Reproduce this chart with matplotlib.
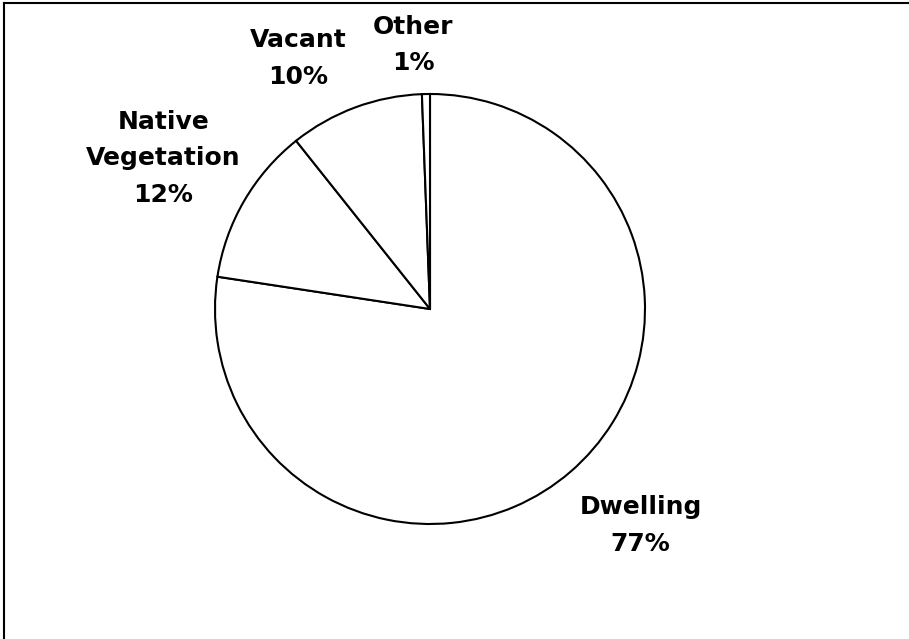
import matplotlib.pyplot as plt
from matplotlib.lines import Line2D

# land use shares (percent)
categories = ['Dwelling', 'Native\nVegetation', 'Vacant', 'Other']
shares = [77.4, 11.9, 10.1, 0.6]

plt.rcParams['font.family'] = ['DejaVu Sans']

W, H = 909, 639
fig = plt.figure(figsize=(W / 100, H / 100), dpi=100)

# square axes centred on the pie
cx, cy, r = 430, 309, 215
ax = fig.add_axes([(cx - r) / W, 1 - (cy + r) / H, 2 * r / W, 2 * r / H])
wedges, _ = ax.pie(shares, startangle=90, counterclock=False,
                   colors=['white'] * len(shares),
                   wedgeprops=dict(edgecolor='black', linewidth=1.5))
ax.set_xlim(-1, 1)
ax.set_ylim(-1, 1)
ax.set_aspect('equal')
ax.axis('off')

# label spots (data units, radius = 1)
label_pos = [(0.98, -1.005), (-1.24, 0.70), (-0.614, 1.167), (-0.079, 1.228)]
for name, val, (lx, ly) in zip(categories, shares, label_pos):
    ax.text(lx, ly, '%s\n%d%%' % (name, round(val)), ha='center', va='center',
            fontsize=18, fontweight='bold', linespacing=1.68, clip_on=False)

# chart area frame (left and top edges show)
fig.add_artist(Line2D([3.5 / W, 3.5 / W], [0, 1 - 2.5 / H], transform=fig.transFigure,
                      color='black', linewidth=1.5))
fig.add_artist(Line2D([3.5 / W, 1], [1 - 2.5 / H, 1 - 2.5 / H], transform=fig.transFigure,
                      color='black', linewidth=1.5))

fig.savefig('out.png', dpi=100)
